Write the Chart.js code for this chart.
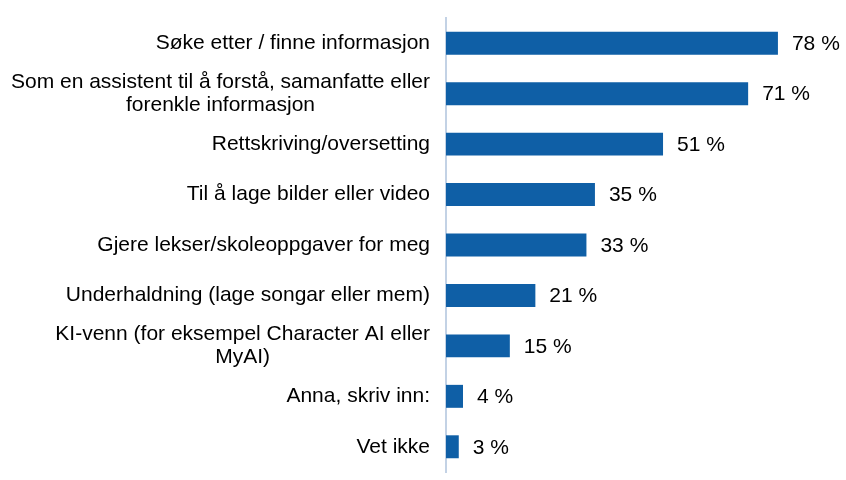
<!DOCTYPE html>
<html>
<head>
<meta charset="utf-8">
<script src="https://cdn.jsdelivr.net/npm/chart.js@4"></script>
<style>
  html, body { margin: 0; padding: 0; background: #fff; }
  #wrap { width: 846px; height: 480px; }
</style>
</head>
<body>
<div id="wrap"><canvas id="barChart" width="846" height="480"></canvas></div>
<script>
// categories (multi-line ones are arrays) and percentages
const categories = [
  'Søke etter / finne informasjon',
  ['Som en assistent til å forstå, samanfatte eller', 'forenkle informasjon'],
  'Rettskriving/oversetting',
  'Til å lage bilder eller video',
  'Gjere lekser/skoleoppgaver for meg',
  'Underhaldning (lage songar eller mem)',
  ['KI-venn (for eksempel Character AI eller', 'MyAI)'],
  'Anna, skriv inn:',
  'Vet ikke'
];
const values = [78, 71, 51, 35, 33, 21, 15, 4, 3];

const FONT = 'Liberation Sans, Arial, sans-serif';

// category labels: right aligned block, lines centred inside the block
const categoryLabels = {
  id: 'categoryLabels',
  afterDraw(chart) {
    const ctx = chart.ctx;
    const y = chart.scales.y;
    const right = y.right - 16;
    ctx.save();
    ctx.font = '21px ' + FONT;
    ctx.fillStyle = '#000';
    ctx.textAlign = 'center';
    ctx.textBaseline = 'middle';
    categories.forEach((c, i) => {
      const lines = Array.isArray(c) ? c : [c];
      const w = Math.max(...lines.map(l => ctx.measureText(l).width));
      const cx = right - w / 2;
      const yc = y.getPixelForValue(i);
      lines.forEach((l, j) => {
        ctx.fillText(l, cx, yc + (j - (lines.length - 1) / 2) * 23);
      });
    });
    ctx.restore();
  }
};

// draws "78 %" etc. after each bar
const valueLabels = {
  id: 'valueLabels',
  afterDatasetsDraw(chart) {
    const ctx = chart.ctx;
    const meta = chart.getDatasetMeta(0);
    ctx.save();
    ctx.font = '21px ' + FONT;
    ctx.fillStyle = '#000';
    ctx.textAlign = 'left';
    ctx.textBaseline = 'middle';
    meta.data.forEach((bar, i) => {
      ctx.fillText(values[i] + ' %', bar.x + 14, bar.y + 1);
    });
    ctx.restore();
  }
};

new Chart(document.getElementById('barChart'), {
  type: 'bar',
  data: {
    labels: categories,
    datasets: [{
      data: values,
      backgroundColor: '#0F5FA6',
      barPercentage: 0.455,
      categoryPercentage: 1
    }]
  },
  options: {
    indexAxis: 'y',
    responsive: false,
    animation: false,
    devicePixelRatio: 1,
    layout: { padding: { top: 18, bottom: 8, right: 17, left: 0 } },
    plugins: { legend: { display: false }, tooltip: { enabled: false } },
    scales: {
      x: {
        display: false,
        min: 0,
        max: 90
      },
      y: {
        afterFit(scale) {
          scale.width = 446;
          scale.paddingTop = 0;
          scale.paddingBottom = 0;
        },
        grid: { display: false, drawTicks: false },
        border: { display: true, color: '#C3D2E5', width: 2 },
        ticks: { display: false }
      }
    }
  },
  plugins: [valueLabels, categoryLabels]
});
</script>
</body>
</html>
